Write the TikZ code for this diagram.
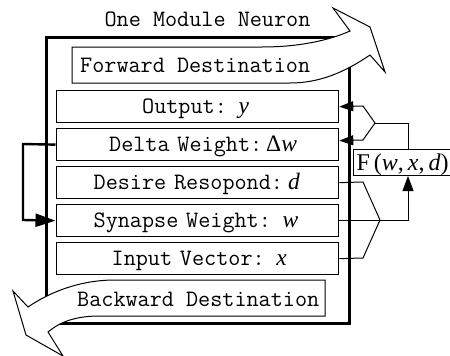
\documentclass[tikz,border=0pt]{standalone}
\usepackage{fontspec}
\newfontfamily\tmsfont{Liberation Serif}
\usetikzlibrary{arrows.meta}
% italic symbol in a label
\newcommand\mi[1]{{\tmsfont\itshape #1}}
\begin{document}
\begin{tikzpicture}[x=1pt,y=-1pt,
  every node/.style={font=\fontsize{23.5}{23.5}\selectfont\ttfamily},
  unit/.style={draw, line width=1.3pt, anchor=north west, inner sep=0pt,
    minimum width=282.5pt, minimum height=32pt, text width=282.5pt,
    align=left, text height=17pt, text depth=4pt},
  conn/.style={line width=1pt},
  tipS/.style={-{Triangle[length=14pt,width=10pt]}},
  bigarrow/.style={draw, line width=1pt, fill=white, line join=miter}]
\useasboundingbox (0,0) rectangle (450,356);

% module frame
\node[draw, line width=2.7pt, anchor=north west, inner sep=0pt,
  minimum width=303pt, minimum height=286pt] (frame) at (45,36) {};
\node[anchor=base] (title) at (207.5,26) {One Module Neuron};

% the five stored quantities
\node[unit] (out) at (55.5,90)  {\hspace*{86pt}Output: \mi{y}};
\node[unit] (dw)  at (55.5,128) {\hspace*{53pt}Delta Weight:\hspace{4pt}{\tmsfont Δ}\mi{w}};
\node[unit] (des) at (55.5,166) {\hspace*{37.5pt}Desire Resopond:\hspace{5pt}\mi{d}};
\node[unit] (syn) at (55.5,204) {\hspace*{37.5pt}Synapse Weight: \mi{w}};
\node[unit] (inp) at (55.5,242) {\hspace*{55.5pt}Input Vector: \mi{x}};

% forward destination arrow
\path[bigarrow] (72,47) -- (262,47) .. controls (300,47) and (330,40) .. (350,31)
  -- (333,8) -- (370,27) -- (385,72) -- (370,55)
  .. controls (345,72) and (320,83) .. (290,83) -- (72,83) -- cycle;
\node[anchor=base west, inner sep=0pt] (fwd) at (80,72.7) {Forward Destination};

% backward destination arrow
\path[bigarrow] (325,280) -- (325,316) -- (100,316)
  .. controls (75,316) and (60,322) .. (48,332)
  -- (63,356) -- (26,335) -- (13,291) -- (28,307)
  .. controls (50,292) and (80,280) .. (115,280) -- cycle;
\node[anchor=base west, inner sep=0pt] (bwd) at (77,306.7) {Backward Destination};

% learning function
\node[draw, line width=1pt, anchor=north west, minimum height=26pt,
  inner xsep=3pt, inner ysep=0pt, text height=19pt, text depth=4pt,
  font=\fontsize{24}{24}\selectfont\tmsfont] (F) at (353,149)
  {F\,(\mi{w},\,\mi{x},\,\mi{d})};

\coordinate (fx) at (408,123);
\coordinate (fork) at (375,123);
\coordinate (merge) at (380,220);

% results fed back into the module
\draw[conn] (F.north -| fx) -- (fx) -- (fork);
\draw[conn, tipS] (fork) -- (363,106) -- (out.east);
\draw[conn, tipS] (fork) -- (363,140) -- ([yshift=4pt]dw.east);

% arguments of the learning function
\draw[conn] (des.east) -- (363,182) -- (merge);
\draw[conn] (inp.east) -- (363,258) -- (merge);
\draw[conn, -{Triangle[length=15pt,width=11pt]}] (syn.east) -- (syn.east -| fx) -- (F.south -| fx);

% weight update
\draw[line width=2.4pt, -{Triangle[length=20pt,width=13pt]}]
  (dw.west) -- (23,144) -- (23,220) -- (syn.west);
\end{tikzpicture}
\end{document}
